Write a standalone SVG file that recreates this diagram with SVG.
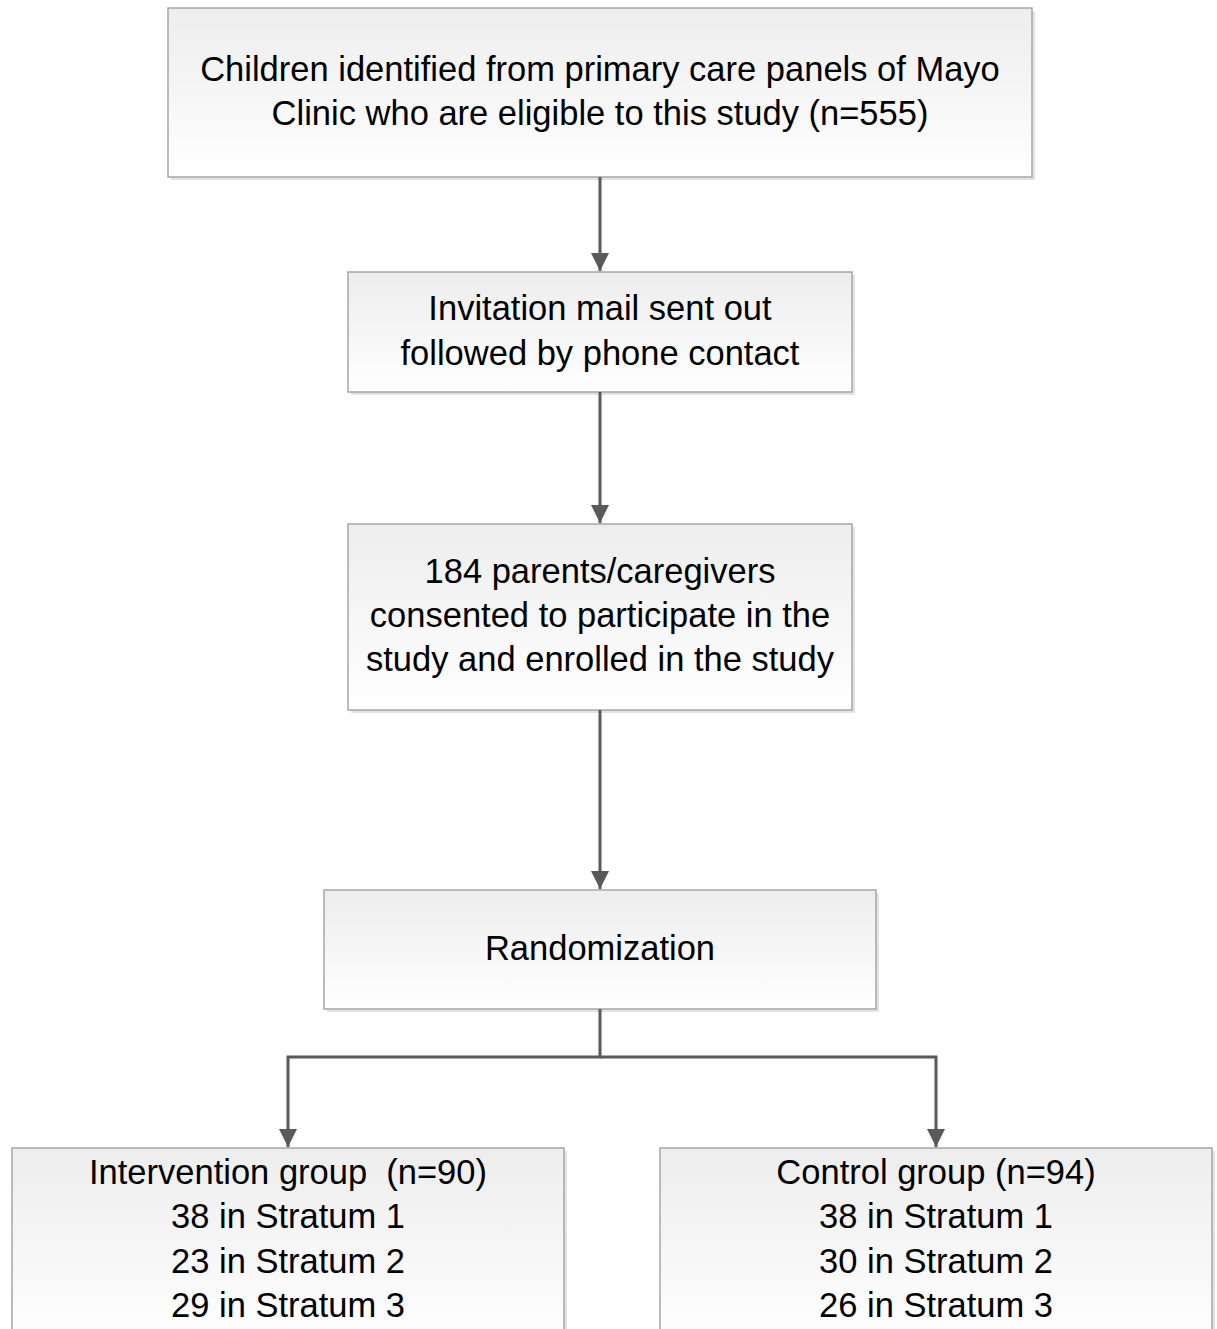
<svg xmlns="http://www.w3.org/2000/svg" width="1217" height="1329" viewBox="0 0 1217 1329">
<defs>
<linearGradient id="g" x1="0" y1="0" x2="0" y2="1">
<stop offset="0" stop-color="#ededed"/>
<stop offset="1" stop-color="#ffffff"/>
</linearGradient>
<marker id="ah" markerWidth="18" markerHeight="18" refX="18" refY="9" orient="auto" markerUnits="userSpaceOnUse">
<path d="M0,0 L18,9 L0,18 Z" fill="#595959"/>
</marker>
</defs>
<style>
.box{fill:url(#g);stroke:#a6a6a6;stroke-width:1.5}
.sh{fill:#d0d0d0;opacity:0.6}
.t{font-family:"Liberation Sans",Arial,sans-serif;font-size:34.5px;fill:#000;text-anchor:middle}
.c{fill:none;stroke:#595959;stroke-width:3}
</style>
<rect width="1217" height="1329" fill="#fff"/>
<g id="n1">
<rect class="sh" x="171" y="11" width="864" height="169"/>
<rect class="box" x="168" y="8" width="864" height="169"/>
<text class="t" x="600" y="81">Children identified from primary care panels of Mayo</text>
<text class="t" x="600" y="125">Clinic who are eligible to this study (n=555)</text>
</g>
<g id="n2">
<rect class="sh" x="351" y="275" width="504" height="120"/>
<rect class="box" x="348" y="272" width="504" height="120"/>
<text class="t" x="600" y="320">Invitation mail sent out</text>
<text class="t" x="600" y="365">followed by phone contact</text>
</g>
<g id="n3">
<rect class="sh" x="351" y="527" width="504" height="186"/>
<rect class="box" x="348" y="524" width="504" height="186"/>
<text class="t" x="600" y="583">184 parents/caregivers</text>
<text class="t" x="600" y="627">consented to participate in the</text>
<text class="t" x="600" y="671">study and enrolled in the study</text>
</g>
<g id="n4">
<rect class="sh" x="327" y="893" width="552" height="119"/>
<rect class="box" x="324" y="890" width="552" height="119"/>
<text class="t" x="600" y="960">Randomization</text>
</g>
<g id="n5">
<rect class="sh" x="15" y="1151" width="552" height="200"/>
<rect class="box" x="12" y="1148" width="552" height="200"/>
<text class="t" x="288" y="1184" xml:space="preserve">Intervention group  (n=90)</text>
<text class="t" x="288" y="1228">38 in Stratum 1</text>
<text class="t" x="288" y="1273">23 in Stratum 2</text>
<text class="t" x="288" y="1317">29 in Stratum 3</text>
</g>
<g id="n6">
<rect class="sh" x="663" y="1151" width="552" height="200"/>
<rect class="box" x="660" y="1148" width="552" height="200"/>
<text class="t" x="936" y="1184">Control group (n=94)</text>
<text class="t" x="936" y="1228">38 in Stratum 1</text>
<text class="t" x="936" y="1273">30 in Stratum 2</text>
<text class="t" x="936" y="1317">26 in Stratum 3</text>
</g>
<g id="connectors">
<line class="c" x1="600" y1="177" x2="600" y2="271" marker-end="url(#ah)"/>
<line class="c" x1="600" y1="392" x2="600" y2="523" marker-end="url(#ah)"/>
<line class="c" x1="600" y1="710" x2="600" y2="889" marker-end="url(#ah)"/>
<path class="c" d="M600,1009 V1057 H288 V1147" marker-end="url(#ah)"/>
<path class="c" d="M600,1057 H936 V1147" marker-end="url(#ah)"/>
</g>
</svg>
